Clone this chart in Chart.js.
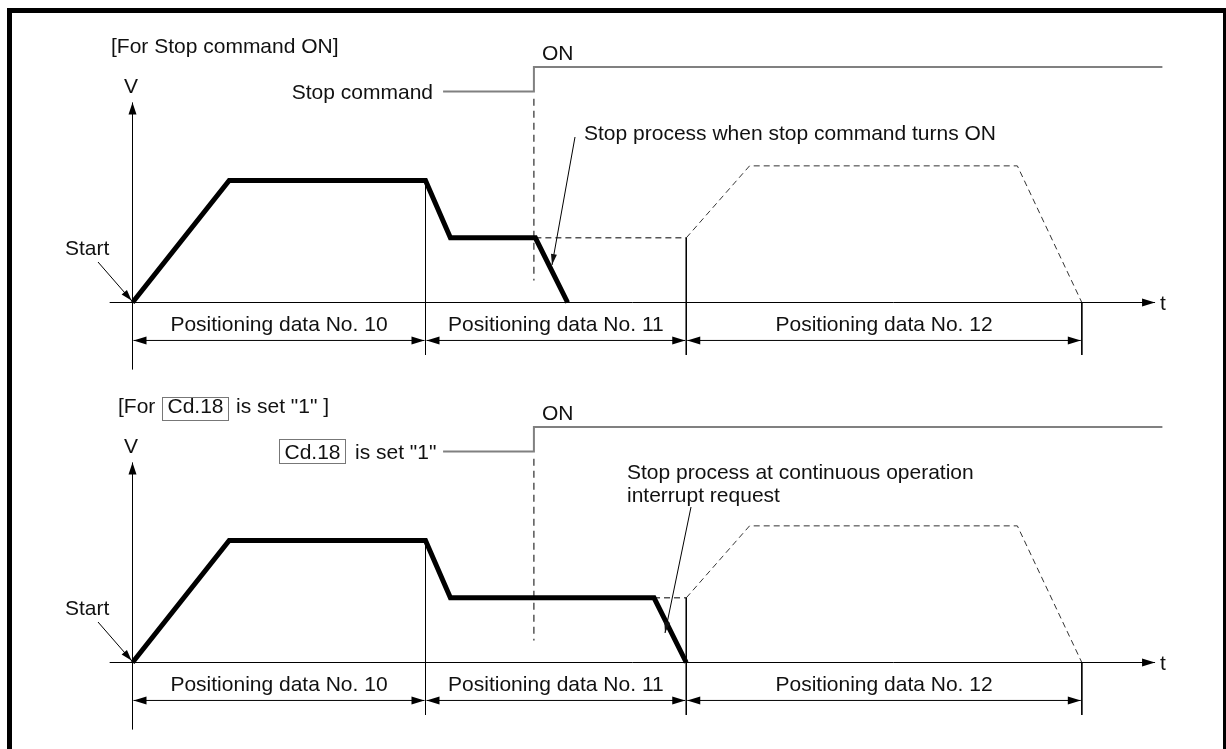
<!DOCTYPE html>
<html><head><meta charset="utf-8">
<style>html,body{margin:0;padding:0;background:#fff;overflow:hidden;} canvas{display:block;}</style>
<script src="https://cdn.jsdelivr.net/npm/chart.js@4.4.1/dist/chart.umd.min.js"></script>
</head><body>
<canvas id="c" width="1226" height="749"></canvas>
<script>
// ---- data (time units t, velocity units V) ----
const segBounds = [0, 100, 189, 324];
const segLabels = ['Positioning data No. 10', 'Positioning data No. 11', 'Positioning data No. 12'];
const profileT_stop = [0, 33, 100, 108.5, 137.5, 148.5];
const profileV_stop = [0, 100, 100, 53, 53, 0];
const profileT_cd18 = [0, 33, 100, 108.5, 178, 189];
const profileV_cd18 = [0, 100, 100, 53, 53, 0];
const plannedT_stop = [137.5, 189];
const plannedT_cd18 = [178, 189];
const plannedV = [53, 53];
const nextT = [189, 210.6, 302, 324];
const nextV = [53, 112, 112, 0];
const signalT = [106, 137, 137, 351.5];
const signalLevel = [173, 173, 193, 193];
const cmdT = [137, 137];
const cmdV = [167, 18];
const extT = [100, 189, 324];
const extTopV = [100, 53, 0];
const extBottomV = -43;
const dimV = -31.1;
const vAxisRange = [-55, 164];
const tAxisRange = [-7.8, 349];

const FONT = '21px "Liberation Sans", Arial, sans-serif';
const pts = (ts, vs) => ts.map((t, i) => ({x: t, y: vs[i]}));

function panelDatasets(axis, profT, profV, planT) {
  const thin = {borderColor: '#000', borderWidth: 1, pointRadius: 0, showLine: true, yAxisID: axis, order: 2};
  const ds = [];
  ds.push({...thin, data: [{x: 0, y: vAxisRange[0]}, {x: 0, y: vAxisRange[1]}]});
  ds.push({...thin, data: [{x: tAxisRange[0], y: 0}, {x: tAxisRange[1], y: 0}]});
  extT.forEach((t, i) => ds.push({...thin, data: [{x: t, y: extTopV[i]}, {x: t, y: extBottomV}]}));
  ds.push({...thin, borderDash: [6, 4], data: pts(planT, plannedV)});
  ds.push({...thin, borderColor: '#333', borderDash: [6, 4], data: pts(nextT, nextV)});
  ds.push({...thin, borderDash: [7, 5], data: pts(cmdT, cmdV)});
  ds.push({...thin, borderColor: '#808080', borderWidth: 2, data: pts(signalT, signalLevel), borderJoinStyle: 'miter'});
  ds.push({borderColor: '#000', borderWidth: 5, pointRadius: 0, showLine: true, yAxisID: axis, order: 0,
           borderJoinStyle: 'miter', borderCapStyle: 'butt', data: pts(profT, profV)});
  return ds;
}

function arrowHead(ctx, tx, ty, fx, fy, len, hw) {
  const a = Math.atan2(ty - fy, tx - fx);
  ctx.beginPath();
  ctx.moveTo(tx, ty);
  ctx.lineTo(tx - len * Math.cos(a) + hw * Math.sin(a), ty - len * Math.sin(a) - hw * Math.cos(a));
  ctx.lineTo(tx - len * Math.cos(a) - hw * Math.sin(a), ty - len * Math.sin(a) + hw * Math.cos(a));
  ctx.closePath();
  ctx.fill();
}
function line(ctx, x1, y1, x2, y2) { ctx.beginPath(); ctx.moveTo(x1, y1); ctx.lineTo(x2, y2); ctx.stroke(); }

const decor = {
  id: 'decor',
  afterDraw(chart) {
    const ctx = chart.ctx, xs = chart.scales.x;
    ctx.save();
    // frame
    ctx.strokeStyle = '#000'; ctx.lineWidth = 5;
    ctx.strokeRect(9.5, 10.5, 1216, 760);
    ctx.fillStyle = '#111'; ctx.strokeStyle = '#000'; ctx.lineWidth = 1;
    ctx.font = FONT; ctx.textBaseline = 'alphabetic';
    ['yTop', 'yBot'].forEach((id, p) => {
      const ys = chart.scales[id], dy = p * 360;
      const X = v => xs.getPixelForValue(v), Y = v => ys.getPixelForValue(v);
      ctx.fillStyle = '#000';
      arrowHead(ctx, X(0), Y(vAxisRange[1]), X(0), Y(0), 12, 4);
      arrowHead(ctx, X(tAxisRange[1]), Y(0), X(0), Y(0), 13, 4);
      const yd = Y(dimV);
      for (let i = 0; i < segBounds.length - 1; i++) {
        const a = X(segBounds[i]) + 1, b = X(segBounds[i + 1]) - 1;
        line(ctx, a, yd, b, yd);
        arrowHead(ctx, a, yd, b, yd, 13, 4);
        arrowHead(ctx, b, yd, a, yd, 13, 4);
        ctx.textAlign = 'center'; ctx.fillStyle = '#111';
        ctx.fillText(segLabels[i], (X(segBounds[i]) + X(segBounds[i + 1])) / 2, 331 + dy);
        ctx.fillStyle = '#000';
      }
      ctx.fillStyle = '#111';
      ctx.textAlign = 'center'; ctx.fillText('V', 131, 93 + dy);
      ctx.textAlign = 'left';
      ctx.fillText('Start', 65, 255 + dy);
      ctx.fillText('ON', 542, 60 + dy);
      ctx.fillText('t', 1160, 310 + dy);
      line(ctx, 98, 262 + dy, X(0) - 1, Y(0) - 2);
      ctx.fillStyle = '#000';
      arrowHead(ctx, X(0) - 1, Y(0) - 2, 98, 262 + dy, 11, 3.5);
    });
    ctx.fillStyle = '#111';
    // top panel texts
    ctx.textAlign = 'left';
    ctx.fillText('[For Stop command ON]', 111, 53);
    ctx.textAlign = 'right';
    ctx.fillText('Stop command', 433, 99);
    ctx.textAlign = 'left';
    ctx.fillText('Stop process when stop command turns ON', 584, 140);
    line(ctx, 575, 137, 552, 265);
    arrowHead(ctx, 552, 265, 575, 137, 11, 3);
    // bottom panel texts
    ctx.fillText('[For', 118, 413);
    ctx.fillText('is set "1" ]', 236, 413);
    ctx.fillText('is set "1"', 355, 459);
    ctx.strokeStyle = '#777';
    ctx.strokeRect(162.5, 397.5, 66, 23);
    ctx.strokeRect(279.5, 439.5, 66, 24);
    ctx.textAlign = 'center';
    ctx.fillText('Cd.18', 195.5, 413);
    ctx.fillText('Cd.18', 312.5, 459);
    ctx.textAlign = 'left';
    ctx.fillText('Stop process at continuous operation', 627, 479);
    ctx.fillText('interrupt request', 627, 502);
    ctx.strokeStyle = '#000';
    line(ctx, 691, 507, 665, 633);
    arrowHead(ctx, 665, 633, 691, 507, 11, 3);
    ctx.restore();
  }
};

new Chart(document.getElementById('c'), {
  type: 'scatter',
  data: {datasets: [
    ...panelDatasets('yTop', profileT_stop, profileV_stop, plannedT_stop),
    ...panelDatasets('yBot', profileT_cd18, profileV_cd18, plannedT_cd18)
  ]},
  options: {
    responsive: false, animation: false, devicePixelRatio: 1,
    layout: {padding: 0},
    plugins: {legend: {display: false}, tooltip: {enabled: false}},
    elements: {line: {tension: 0}},
    scales: {
      x: {type: 'linear', display: false, min: -132.5 / 2.93, max: (1226 - 132.5) / 2.93},
      yTop: {type: 'linear', display: false, min: -(749 - 302.5) / 1.22, max: 302.5 / 1.22},
      yBot: {type: 'linear', display: false, min: -(749 - 662.5) / 1.22, max: 662.5 / 1.22}
    }
  },
  plugins: [decor]
});
</script>
</body></html>
